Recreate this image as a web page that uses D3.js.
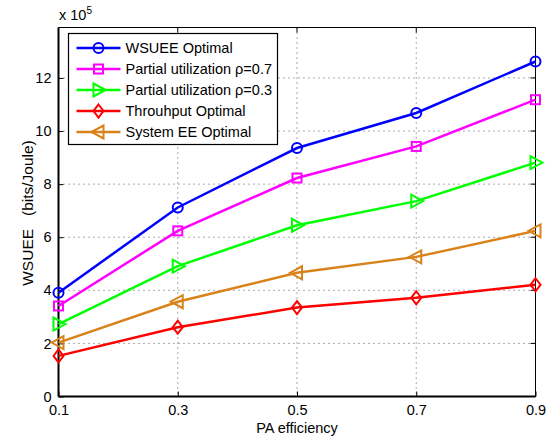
<!DOCTYPE html>
<html>
<head>
<meta charset="utf-8">
<script src="https://cdn.jsdelivr.net/npm/d3@7"></script>
<style>
  body { margin: 0; background: #fff; }
  svg text { font-family: "Liberation Sans", Arial, sans-serif; white-space: pre; }
</style>
</head>
<body>
<div id="chart"></div>
<script>
// values (units of 1e5 bits/Joule)
var paEff = [0.1, 0.3, 0.5, 0.7, 0.9];
var wsueeOpt = [3.91, 7.12, 9.36, 10.68, 12.62];
var partial07 = [3.41, 6.24, 8.23, 9.42, 11.18];
var partial03 = [2.73, 4.91, 6.45, 7.36, 8.81];
var thrOpt = [1.53, 2.61, 3.35, 3.72, 4.21];
var sysEEOpt = [2.03, 3.57, 4.66, 5.26, 6.24];
var yTicks = [0, 2, 4, 6, 8, 10, 12];

var series = [
    {name: 'WSUEE Optimal', values: wsueeOpt, color: '#0000ff', marker: 'circle'},
    {name: 'Partial utilization \u03c1=0.7', values: partial07, color: '#ff00ff', marker: 'square'},
    {name: 'Partial utilization \u03c1=0.3', values: partial03, color: '#00ff00', marker: 'triRight'},
    {name: 'Throuhput Optimal', values: thrOpt, color: '#ff0000', marker: 'diamond'},
    {name: 'System EE Optimal', values: sysEEOpt, color: '#d9821a', marker: 'triLeft'}
];

var W = 548, H = 438;
var margin = {top: 27.5, right: 12.5, bottom: 41.5, left: 58.5},
    width = W - margin.left - margin.right,
    height = H - margin.top - margin.bottom;

var xScale = d3.scaleLinear().domain([0.1, 0.9]).range([0, width]);
var yScale = d3.scaleLinear().domain([0, 13.9]).range([height, 0]);

var svg = d3.select('#chart').append('svg')
    .attr('width', W).attr('height', H);
var g = svg.append('g')
    .attr('transform', 'translate(' + margin.left + ',' + margin.top + ')');

// grid
g.selectAll('.gx').data(paEff.slice(1, -1)).enter().append('line')
    .attr('x1', function (d) { return xScale(d); })
    .attr('x2', function (d) { return xScale(d); })
    .attr('y1', 0).attr('y2', height)
    .attr('stroke', '#444').attr('stroke-width', 0.9).attr('stroke-dasharray', '1,4');
g.selectAll('.gy').data(yTicks.slice(1)).enter().append('line')
    .attr('y1', function (d) { return yScale(d); })
    .attr('y2', function (d) { return yScale(d); })
    .attr('x1', 0).attr('x2', width)
    .attr('stroke', '#444').attr('stroke-width', 0.9).attr('stroke-dasharray', '1,4');

// axes
var xAxis = d3.axisBottom(xScale).tickValues(paEff).tickSize(-5).tickPadding(8)
    .tickFormat(d3.format('.1f'));
var yAxis = d3.axisLeft(yScale).tickValues(yTicks).tickSize(-5).tickPadding(7);

var gx = g.append('g').attr('transform', 'translate(0,' + height + ')').call(xAxis);
var gy = g.append('g').call(yAxis);
[gx, gy].forEach(function (a) {
    a.select('.domain').remove();
    a.selectAll('line').attr('stroke', '#000');
    a.selectAll('text').attr('font-size', 14.5).attr('fill', '#000');
});
// right-side and top ticks
g.selectAll('.ry').data(yTicks).enter().append('line')
    .attr('x1', width).attr('x2', width - 5)
    .attr('y1', function (d) { return yScale(d); })
    .attr('y2', function (d) { return yScale(d); })
    .attr('stroke', '#000');
g.selectAll('.tx').data(paEff).enter().append('line')
    .attr('x1', function (d) { return xScale(d); })
    .attr('x2', function (d) { return xScale(d); })
    .attr('y1', 0).attr('y2', 5)
    .attr('stroke', '#000');

// box
g.append('line').attr('x1', 0).attr('x2', width).attr('y1', 0).attr('y2', 0).attr('stroke', '#000');
g.append('line').attr('x1', width).attr('x2', width).attr('y1', 0).attr('y2', height).attr('stroke', '#000');
g.append('line').attr('x1', 0).attr('x2', width).attr('y1', height).attr('y2', height).attr('stroke', '#000').attr('stroke-width', 2);
g.append('line').attr('x1', 0).attr('x2', 0).attr('y1', 0).attr('y2', height).attr('stroke', '#000').attr('stroke-width', 2);

function drawMarker(sel, type, color) {
    if (type === 'circle') {
        sel.append('circle').attr('r', 5);
    } else if (type === 'square') {
        sel.append('rect').attr('x', -4.5).attr('y', -4.5).attr('width', 9).attr('height', 9);
    } else if (type === 'diamond') {
        sel.append('path').attr('d', 'M0,-6.5L5,0L0,6.5L-5,0Z');
    } else if (type === 'triRight') {
        sel.append('path').attr('d', 'M7,0L-5,-6.5L-5,6.5Z');
    } else if (type === 'triLeft') {
        sel.append('path').attr('d', 'M-7,0L5,-6.5L5,6.5Z');
    }
    sel.selectAll('*').attr('fill', 'none').attr('stroke', color).attr('stroke-width', 2);
}

var line = d3.line()
    .x(function (d, i) { return xScale(paEff[i]); })
    .y(function (d) { return yScale(d); });

var order = [3, 4, 2, 1, 0];
order.forEach(function (k) {
    var s = series[k];
    g.append('path').datum(s.values)
        .attr('d', line)
        .attr('fill', 'none')
        .attr('stroke', s.color)
        .attr('stroke-width', 2.5);
    g.selectAll(null).data(s.values).enter().append('g')
        .attr('transform', function (d, i) { return 'translate(' + xScale(paEff[i]) + ',' + yScale(d) + ')'; })
        .each(function () { drawMarker(d3.select(this), s.marker, s.color); });
});

// legend
var lg = svg.append('g').attr('transform', 'translate(68.5,33.5)');
lg.append('rect').attr('width', 209).attr('height', 111)
    .attr('fill', '#fff').attr('stroke', '#000').attr('stroke-width', 1.2);
series.forEach(function (s, i) {
    var y = 14.5 + i * 21;
    var row = lg.append('g').attr('transform', 'translate(0,' + y + ')');
    row.append('line').attr('x1', 8).attr('x2', 52).attr('y1', 0).attr('y2', 0)
        .attr('stroke', s.color).attr('stroke-width', 2.5);
    var m = row.append('g').attr('transform', 'translate(30,0)');
    drawMarker(m, s.marker, s.color);
    row.append('text').attr('x', 57).attr('y', 5)
        .attr('font-size', 14.5).attr('fill', '#000').text(s.name);
});

// labels
svg.append('text').attr('x', 297).attr('y', 433).attr('text-anchor', 'middle')
    .attr('font-size', 14.5).text('PA efficiency');
svg.append('text').attr('transform', 'translate(33,213) rotate(-90)')
    .attr('text-anchor', 'middle').attr('font-size', 15.5)
    .text('WSUEE   (bits/Joule)');
var ex = svg.append('text').attr('x', 59).attr('y', 20).attr('font-size', 14.5);
ex.append('tspan').text('x 10');
ex.append('tspan').attr('dy', -6).attr('font-size', 10).text('5');
</script>
</body>
</html>
